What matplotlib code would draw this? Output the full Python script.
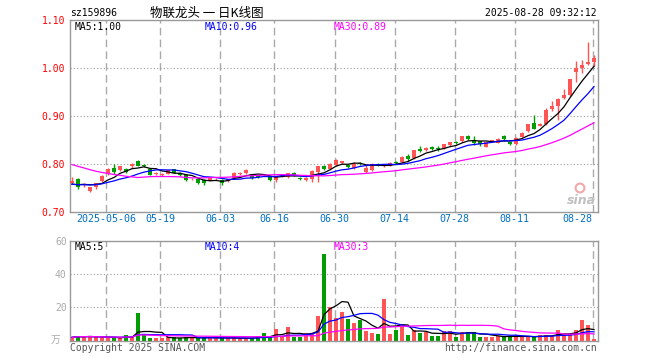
import numpy as np
import pandas as pd
import matplotlib
matplotlib.use("Agg")
import matplotlib.pyplot as plt

# daily candles, first bar 2025-04-23, last 2025-08-28
opens = [0.760, 0.768, 0.755, 0.743, 0.751, 0.764, 0.779, 0.791, 0.786, 0.789,
         0.794, 0.806, 0.798, 0.788, 0.778, 0.776, 0.779, 0.788, 0.780, 0.776,
         0.767, 0.768, 0.765, 0.764, 0.767, 0.765, 0.763, 0.771, 0.779, 0.780,
         0.778, 0.776, 0.778, 0.773, 0.765, 0.775, 0.772, 0.780, 0.771, 0.765,
         0.767, 0.782, 0.796, 0.788, 0.797, 0.801, 0.797, 0.791, 0.801, 0.783,
         0.786, 0.800, 0.794, 0.796, 0.803, 0.803, 0.816, 0.812, 0.830, 0.828,
         0.835, 0.832, 0.833, 0.838, 0.846, 0.847, 0.858, 0.850, 0.847, 0.835,
         0.848, 0.844, 0.857, 0.845, 0.840, 0.856, 0.868, 0.885, 0.879, 0.882,
         0.914, 0.920, 0.937, 0.943, 0.992, 1.000, 1.008, 1.013]
closes = [0.764, 0.752, 0.757, 0.751, 0.759, 0.774, 0.789, 0.782, 0.794, 0.782,
          0.800, 0.796, 0.795, 0.777, 0.779, 0.777, 0.786, 0.781, 0.776, 0.765,
          0.768, 0.759, 0.759, 0.770, 0.768, 0.759, 0.767, 0.781, 0.780, 0.786,
          0.771, 0.773, 0.776, 0.766, 0.773, 0.777, 0.780, 0.775, 0.767, 0.771,
          0.784, 0.794, 0.788, 0.799, 0.808, 0.805, 0.793, 0.800, 0.799, 0.790,
          0.800, 0.795, 0.796, 0.801, 0.801, 0.814, 0.810, 0.828, 0.826, 0.832,
          0.830, 0.830, 0.840, 0.845, 0.844, 0.857, 0.851, 0.844, 0.840, 0.845,
          0.849, 0.852, 0.851, 0.840, 0.854, 0.865, 0.882, 0.873, 0.882, 0.912,
          0.921, 0.936, 0.943, 0.976, 1.000, 1.007, 1.013, 1.021]
highs = [0.772, 0.771, 0.760, 0.752, 0.760, 0.776, 0.790, 0.800, 0.796, 0.791,
         0.801, 0.808, 0.800, 0.789, 0.782, 0.780, 0.787, 0.789, 0.782, 0.777,
         0.771, 0.769, 0.767, 0.771, 0.770, 0.767, 0.768, 0.782, 0.783, 0.788,
         0.779, 0.777, 0.779, 0.774, 0.774, 0.779, 0.781, 0.782, 0.772, 0.772,
         0.786, 0.796, 0.798, 0.802, 0.809, 0.806, 0.798, 0.804, 0.803, 0.798,
         0.801, 0.802, 0.797, 0.803, 0.805, 0.815, 0.821, 0.829, 0.836, 0.834,
         0.837, 0.836, 0.841, 0.846, 0.848, 0.858, 0.860, 0.858, 0.848, 0.846,
         0.850, 0.853, 0.860, 0.846, 0.855, 0.866, 0.883, 0.902, 0.884, 0.917,
         0.930, 0.937, 0.955, 0.977, 1.015, 1.017, 1.055, 1.026]
lows = [0.757, 0.748, 0.752, 0.740, 0.747, 0.762, 0.777, 0.779, 0.784, 0.780,
        0.791, 0.795, 0.793, 0.776, 0.776, 0.774, 0.778, 0.780, 0.775, 0.764,
        0.765, 0.758, 0.756, 0.763, 0.765, 0.755, 0.761, 0.770, 0.777, 0.779,
        0.768, 0.771, 0.774, 0.764, 0.762, 0.773, 0.770, 0.774, 0.766, 0.764,
        0.761, 0.761, 0.786, 0.786, 0.796, 0.800, 0.791, 0.789, 0.797, 0.781,
        0.784, 0.794, 0.792, 0.794, 0.799, 0.802, 0.806, 0.810, 0.824, 0.826,
        0.829, 0.827, 0.831, 0.836, 0.842, 0.845, 0.849, 0.838, 0.836, 0.834,
        0.846, 0.843, 0.848, 0.839, 0.838, 0.855, 0.867, 0.872, 0.878, 0.880,
        0.910, 0.891, 0.935, 0.942, 0.970, 0.990, 1.006, 1.003]
# volume, 万
volumes = [2.0, 2.8, 2.4, 2.8, 2.0, 2.0, 1.4, 2.0, 1.4, 3.4,
           2.0, 16.8, 4.0, 1.4, 1.4, 1.4, 2.0, 2.0, 1.4, 2.0,
           2.0, 1.4, 2.0, 2.0, 1.4, 1.4, 1.4, 2.0, 1.4, 1.4,
           1.4, 2.8, 4.4, 2.0, 7.0, 2.0, 8.2, 2.4, 2.4, 4.4,
           4.4, 14.8, 52.0, 20.0, 13.4, 17.2, 13.0, 10.6, 12.4, 5.8,
           4.6, 4.0, 25.0, 4.0, 6.4, 8.4, 3.4, 6.4, 4.6, 5.4,
           2.8, 2.8, 5.8, 5.8, 2.2, 5.2, 5.2, 5.2, 2.2, 2.2,
           2.2, 2.8, 2.8, 2.8, 2.2, 2.2, 2.8, 2.2, 3.4, 3.4,
           2.8, 6.4, 4.0, 4.0, 6.4, 12.4, 9.4, 1.0]
# closes before the window, estimated from where the MA lines start
prior_closes = [0.862, 0.858, 0.861, 0.855, 0.850, 0.852, 0.846, 0.843, 0.845, 0.838,
                0.836, 0.768, 0.752, 0.770, 0.778, 0.785, 0.790, 0.788, 0.797, 0.796,
                0.762, 0.758, 0.755, 0.754, 0.756, 0.757, 0.753, 0.756, 0.755]

tick_idx = [6, 15, 25, 34, 44, 54, 64, 74, 87]
tick_labels = ["2025-05-06", "05-19", "06-03", "06-16", "06-30",
               "07-14", "07-28", "08-11", "08-28"]

RED = "#ff5555"
GREEN = "#009c00"
MONO = "DejaVu Sans Mono"
CJK = ["Noto Sans CJK SC", "DejaVu Sans"]

n = len(closes)
x = np.arange(n)
o = np.array(opens)
c = np.array(closes)
colors = np.where(c >= o, RED, GREEN)

cs = pd.Series(prior_closes + closes)
ma5 = cs.rolling(5).mean().values[-n:]
ma10 = cs.rolling(10).mean().values[-n:]
ma30 = cs.rolling(30).mean().values[-n:]
vs = pd.Series(volumes)
vma5 = vs.rolling(5, min_periods=1).mean()
vma10 = vs.rolling(10, min_periods=1).mean()
vma30 = vs.rolling(30, min_periods=1).mean()

W, H = 660, 360
fig = plt.figure(figsize=(W / 100, H / 100), dpi=100)


def box(l, t, r, b):
    return [l / W, 1 - b / H, (r - l) / W, (b - t) / H]


def ftext(px, py, s, **kw):
    fig.text(px / W, 1 - py / H, s, va="center", **kw)


ax = fig.add_axes(box(70, 20, 597.5, 211.5))
axv = fig.add_axes(box(70, 240.7, 597.5, 340.7))

for a in (ax, axv):
    a.set_xlim(-0.33, n - 0.42)
    for s in a.spines.values():
        s.set_color("#999999")
        s.set_linewidth(1.0)
    for t in tick_idx:
        a.axvline(t - 0.25, color="#aaaaaa", lw=1, ls=(0, (5.5, 3)), zorder=0)
    a.tick_params(length=0)

# price panel
ax.vlines(x, lows, highs, color=colors, lw=1, zorder=2)
body_h = np.maximum(np.abs(c - o), 0.0018)
ax.bar(x, body_h, bottom=np.minimum(o, c), width=0.75, color=colors, lw=0, zorder=3)
ax.plot(x, ma5, color="black", lw=0.9, zorder=4)
ax.plot(x, ma10, color="#0000ff", lw=0.9, zorder=4)
ax.plot(x, ma30, color="#ff00ff", lw=0.9, zorder=4)
ax.set_ylim(0.70, 1.10)
for yv in (0.8, 0.9, 1.0):
    ax.axhline(yv, color="#999999", lw=0.8, ls=(0, (1, 2)), zorder=0)
ax.set_yticks([0.7, 0.8, 0.9, 1.0, 1.1])
ax.set_yticklabels(["0.70", "0.80", "0.90", "1.00", "1.10"], color="red",
                   fontsize=7, family=MONO)
ax.tick_params(axis="y", pad=3.6)
ax.set_xticks([t - 0.25 for t in tick_idx])
ax.set_xticklabels(tick_labels, color="#0070c0", fontsize=7.2, family=MONO)
ax.tick_params(axis="x", pad=2)
ax.get_xticklabels()[-1].set_ha("right")

# sina watermark
ax.scatter([580 / W], [1 - 188 / H], s=40, facecolors="none", edgecolors="#f2a8a8",
           linewidths=1.5, transform=fig.transFigure, zorder=1)
ftext(581, 201, "sina", fontsize=9, color="#c0c0c0", ha="center",
      fontweight="bold", style="italic")

# volume panel
axv.bar(x, volumes, width=0.8, color=colors, lw=0, zorder=2)
axv.plot(x, vma5, color="black", lw=0.9, zorder=4)
axv.plot(x, vma10, color="#0000ff", lw=0.9, zorder=4)
axv.plot(x, vma30, color="#ff00ff", lw=0.9, zorder=4)
axv.set_ylim(0, 60)
for yv in (20, 40):
    axv.axhline(yv, color="#999999", lw=0.8, ls=(0, (1, 2)), zorder=0)
axv.set_yticks([20, 40, 60])
axv.set_yticklabels(["20", "40", "60"], color="#aaaaaa", fontsize=7, family=MONO)
axv.tick_params(axis="y", pad=2.4)
axv.set_xticks([])

# header
ftext(70, 13, "sz159896", fontsize=7, family=MONO, color="black")
ftext(150, 13, "物联龙头 一 日K线图", fontsize=9, family=CJK, color="black")
ftext(597, 13, "2025-08-28 09:32:12", fontsize=7, family=MONO, color="black", ha="right")

# MA legends
ftext(75, 27, "MA5:1.00", fontsize=7, family=MONO, color="black")
ftext(205, 27, "MA10:0.96", fontsize=7, family=MONO, color="#0000ff")
ftext(334, 27, "MA30:0.89", fontsize=7, family=MONO, color="#ff00ff")
ftext(75, 247, "MA5:5", fontsize=7, family=MONO, color="black")
ftext(205, 247, "MA10:4", fontsize=7, family=MONO, color="#0000ff")
ftext(334, 247, "MA30:3", fontsize=7, family=MONO, color="#ff00ff")

# footer
ftext(56, 340, "万", fontsize=7, family=CJK, color="#aaaaaa", ha="center")
ftext(70, 348, "Copyright 2025 SINA.COM", fontsize=7, family=MONO, color="#555555")
ftext(597, 348, "http://finance.sina.com.cn", fontsize=7, family=MONO,
      color="#555555", ha="right")

fig.savefig("out.png", dpi=100)
